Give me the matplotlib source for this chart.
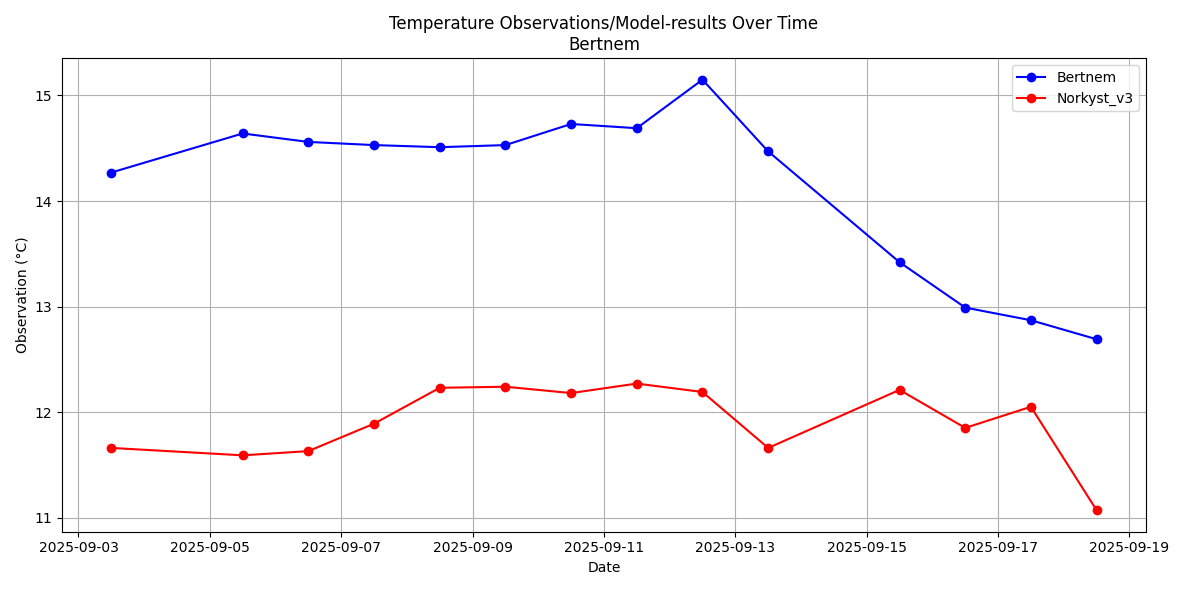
import matplotlib
matplotlib.use("Agg")
import matplotlib.pyplot as plt
import matplotlib.dates as mdates
from matplotlib.ticker import MultipleLocator
import pandas as pd

dates = pd.to_datetime([
    "2025-09-03 12:00", "2025-09-05 12:00", "2025-09-06 12:00", "2025-09-07 12:00",
    "2025-09-08 12:00", "2025-09-09 12:00", "2025-09-10 12:00", "2025-09-11 12:00",
    "2025-09-12 12:00", "2025-09-13 12:00", "2025-09-15 12:00", "2025-09-16 12:00",
    "2025-09-17 12:00", "2025-09-18 12:00",
])
bertnem = [14.27, 14.64, 14.56, 14.53, 14.51, 14.53, 14.73, 14.69, 15.15, 14.47,
           13.42, 12.99, 12.87, 12.69]
norkyst = [11.66, 11.59, 11.63, 11.89, 12.23, 12.24, 12.18, 12.27, 12.19, 11.66,
           12.21, 11.85, 12.05, 11.07]

fig, ax = plt.subplots(figsize=(11.87, 5.9), dpi=100)
ax.plot(dates, bertnem, 'o-', color='blue', label='Bertnem')
ax.plot(dates, norkyst, 'o-', color='red', label='Norkyst_v3')
ax.xaxis.set_major_locator(mdates.DayLocator(bymonthday=range(1, 32, 2)))
ax.xaxis.set_major_formatter(mdates.DateFormatter('%Y-%m-%d'))
ax.yaxis.set_major_locator(MultipleLocator(1))
ax.set_xlabel("Date")
ax.set_ylabel("Observation (°C)")
ax.set_title("Temperature Observations/Model-results Over Time\nBertnem")
ax.grid(True)
ax.legend()
fig.tight_layout()
fig.savefig("out.png")
